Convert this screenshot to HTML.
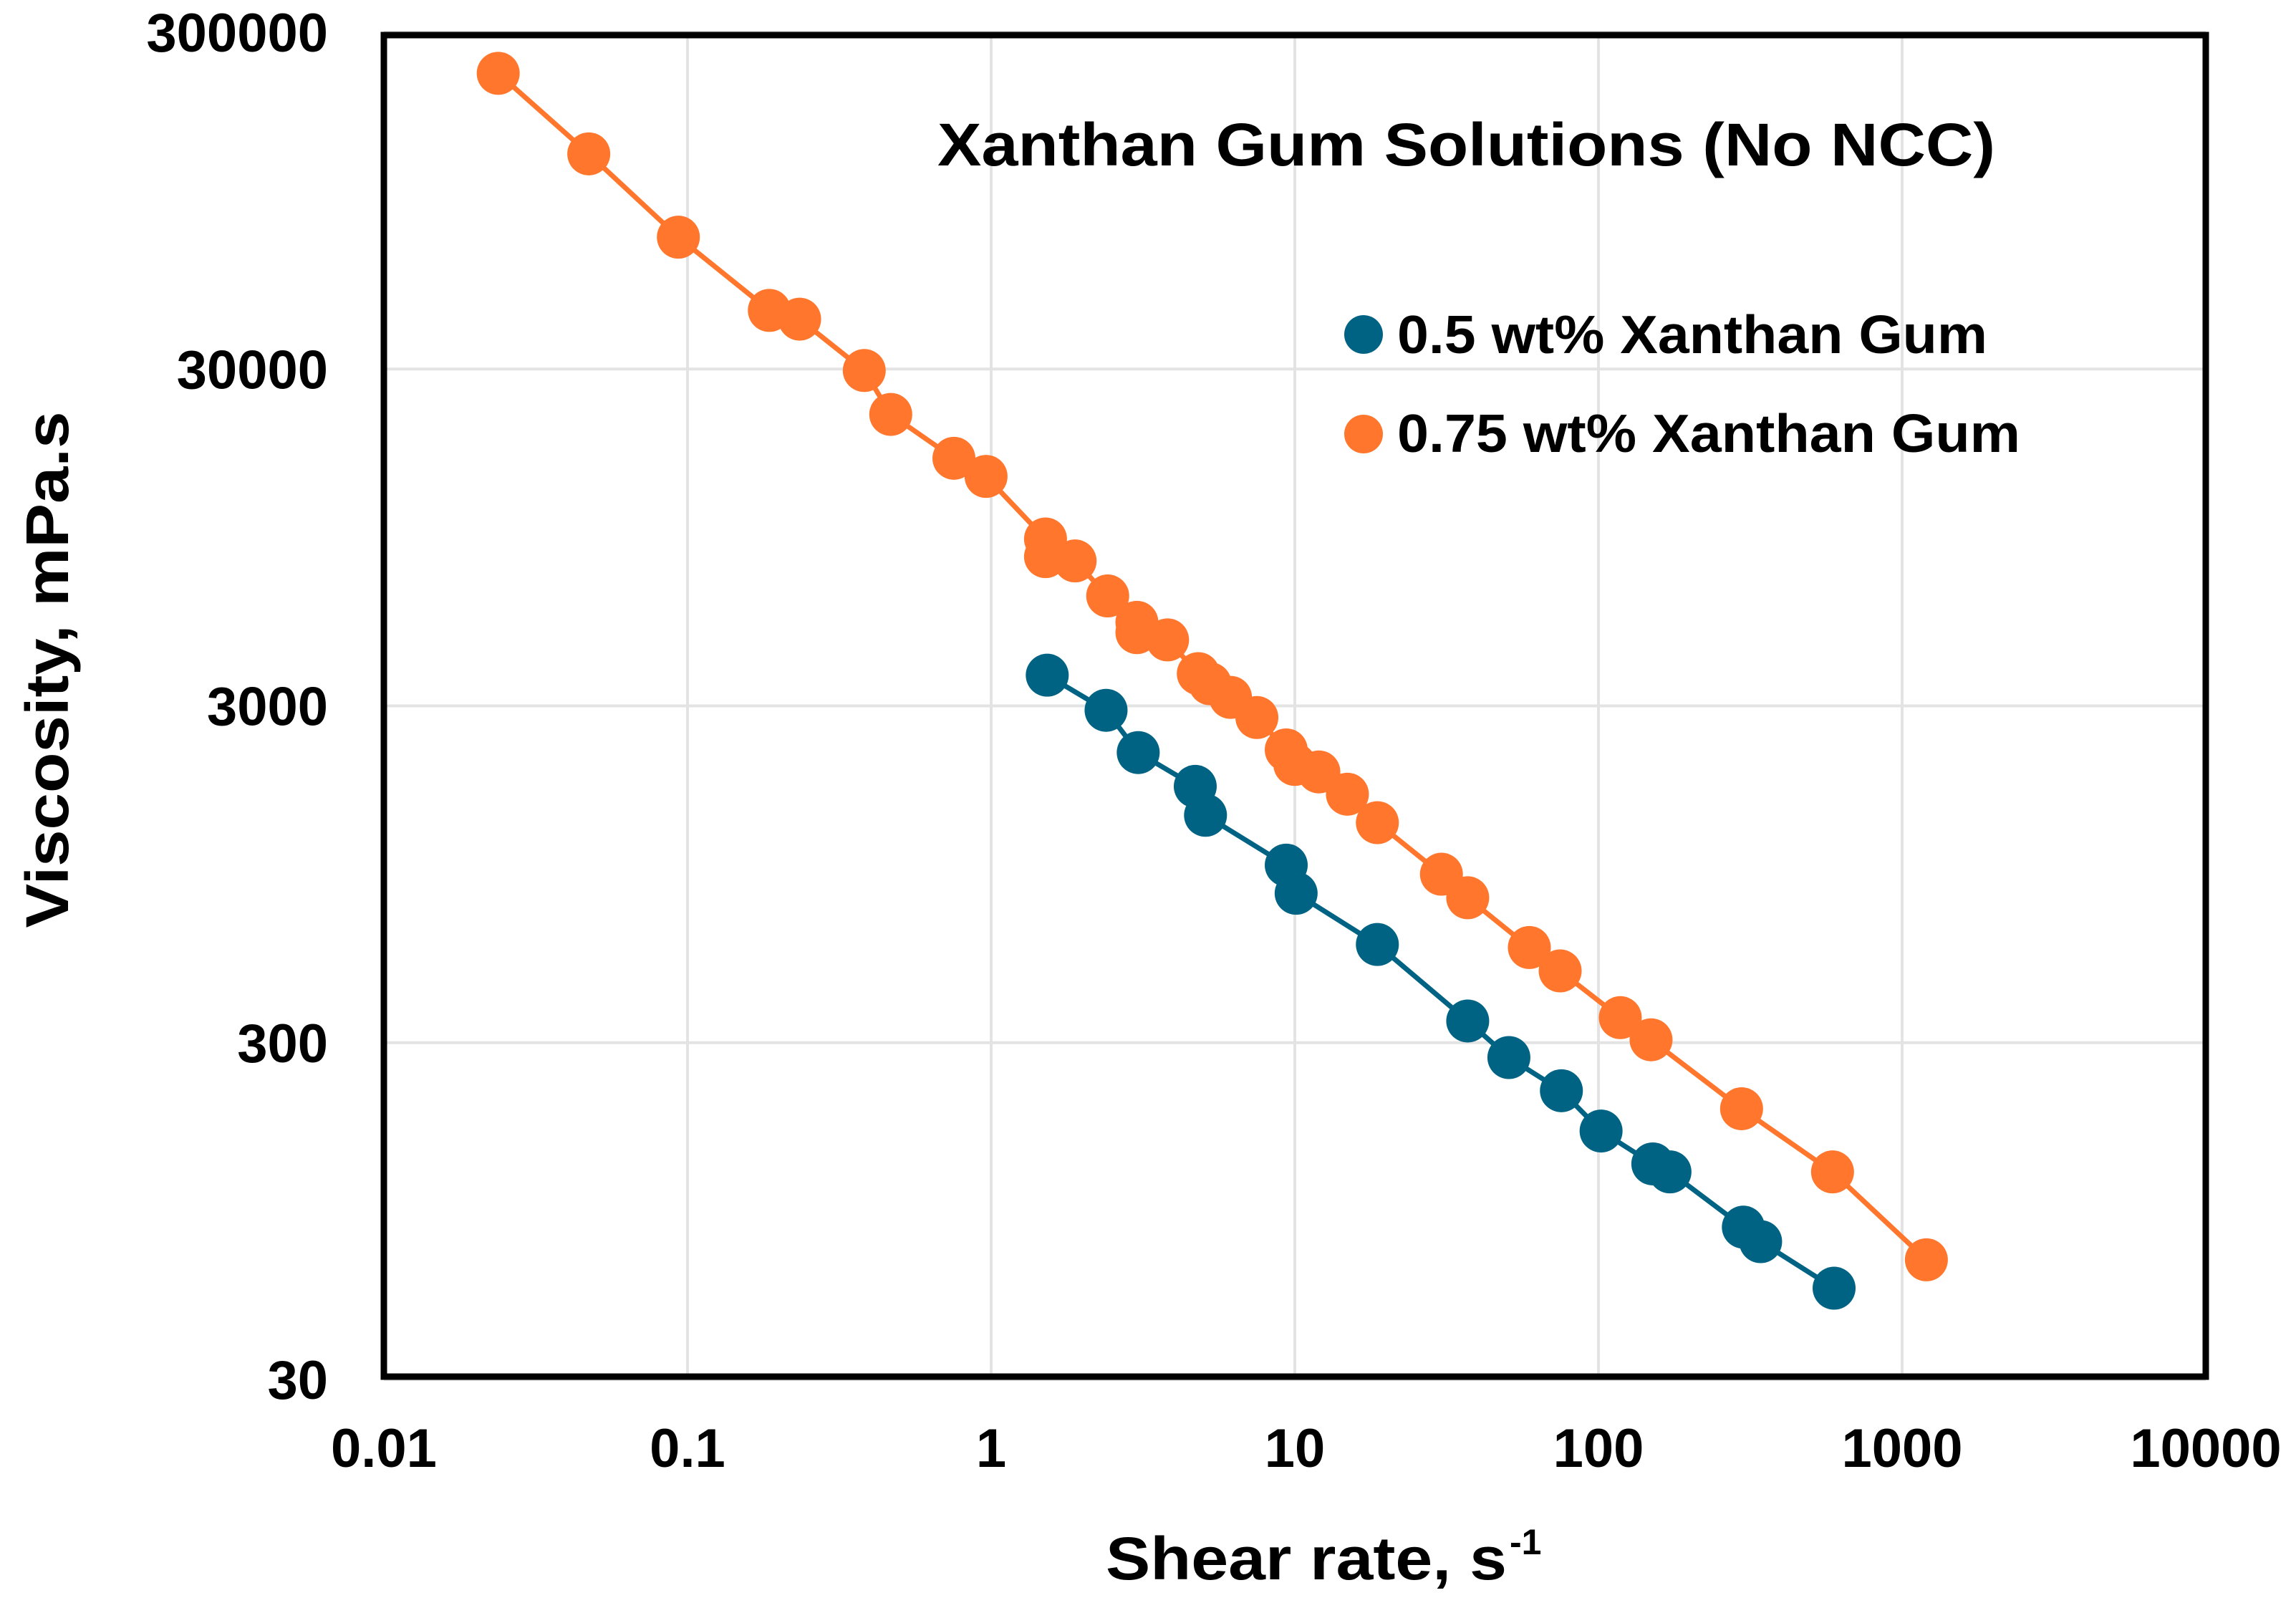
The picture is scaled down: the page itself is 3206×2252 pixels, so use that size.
<!DOCTYPE html>
<html><head><meta charset="utf-8"><style>
html,body{margin:0;padding:0;background:#fff;}
svg{display:block;font-family:"Liberation Sans",sans-serif;font-weight:bold;}
</style></head><body>
<svg id="chart" width="3206" height="2252" viewBox="0 0 3206 2252" xmlns="http://www.w3.org/2000/svg">
<rect x="0" y="0" width="3206" height="2252" fill="#fff"/>
<g id="grid"></g>
<g id="series"></g>
<rect x="536" y="49" width="2544" height="1873" fill="none" stroke="#000" stroke-width="9"/>
<g id="ticks"></g>
<text x="1309" y="231" font-size="84" textLength="1477" lengthAdjust="spacingAndGlyphs">Xanthan Gum Solutions (No NCC)</text>
<g>
<g>
<circle cx="1904" cy="467" r="27" fill="#006384"/>
<text x="1951" y="493" font-size="75" textLength="824" lengthAdjust="spacingAndGlyphs">0.5 wt% Xanthan Gum</text>
</g>
<g>
<circle cx="1904" cy="606" r="27" fill="#FF762C"/>
<text x="1951" y="631" font-size="75" textLength="870" lengthAdjust="spacingAndGlyphs">0.75 wt% Xanthan Gum</text>
</g>
</g>
<text x="1544" y="2205" font-size="84" textLength="560" lengthAdjust="spacingAndGlyphs">Shear rate, s</text>
<text x="2108" y="2170" font-size="50">-1</text>
<text transform="translate(95,935) rotate(-90)" text-anchor="middle" font-size="84" textLength="721" lengthAdjust="spacingAndGlyphs">Viscosity, mPa.s</text>
</svg>
<script>
const xTicks = [0.01, 0.1, 1, 10, 100, 1000, 10000];
const xTickLabels = ["0.01", "0.1", "1", "10", "100", "1000", "10000"];
const yTicks = [30, 300, 3000, 30000, 300000];
const yTickLabels = ["30", "300", "3000", "30000", "300000"];
const rateLow = [1.53, 2.39, 3.05, 4.70, 5.08, 9.37, 10.1, 18.7, 37.1, 50.7, 75.5, 102, 151, 172, 300, 342, 597];
const viscLow = [3700, 2910, 2180, 1730, 1420, 1010, 833, 587, 348, 271, 216, 164, 131, 124, 85, 77, 56];
const rateHigh = [0.0238, 0.0473, 0.0933, 0.186, 0.234, 0.382, 0.467, 0.754, 0.962, 1.51, 1.51, 1.89, 2.42, 3.02, 3.02, 3.81, 4.81, 5.26, 6.14, 7.50, 9.37, 10.0, 12.0, 14.9, 18.7, 30.4, 37.1, 59.2, 74.8, 118, 149, 296, 590, 1202];
const viscHigh = [226500, 130600, 73900, 44800, 42200, 29700, 22000, 16300, 14400, 9390, 8320, 8080, 6360, 5310, 4950, 4710, 3740, 3490, 3180, 2770, 2220, 2010, 1910, 1640, 1350, 949, 808, 575, 490, 356, 306, 191, 124, 68];

const NS = "http://www.w3.org/2000/svg";
const X0 = 536, X1 = 3080, Y0 = 1926, Y1 = 45;
function xs(v){ return X0 + (Math.log10(v) - Math.log10(0.01)) / 6 * (X1 - X0); }
function ys(v){ return Y0 - (Math.log10(v) - Math.log10(30)) / 4 * (Y0 - Y1); }
function mk(tag, attrs, parent){ const e = document.createElementNS(NS, tag); for (const k in attrs) e.setAttribute(k, attrs[k]); parent.appendChild(e); return e; }

const grid = document.getElementById('grid');
const ticks = document.getElementById('ticks');
xTicks.forEach((t, i) => {
  const gl = mk('line', {x1: xs(t), x2: xs(t), y1: Y1, y2: Y0, stroke: '#e3e3e3', 'stroke-width': 4}, grid);
  
  
  const tx = mk('text', {x: xs(t), y: 2048, 'text-anchor': 'middle', 'font-size': 76}, ticks);
  tx.textContent = xTickLabels[i];
  
  
});
yTicks.forEach((t, i) => {
  const gl = mk('line', {x1: X0, x2: X1, y1: ys(t), y2: ys(t), stroke: '#e3e3e3', 'stroke-width': 4}, grid);
  
  
  const tx = mk('text', {x: 458, y: ys(t) + 27, 'text-anchor': 'end', 'font-size': 76}, ticks);
  tx.textContent = yTickLabels[i];
  
  
});

const series = document.getElementById('series');
function drawSeries(rates, viscs, color, name){
  const g = mk('g', {}, series);
  
  
  const pts = rates.map((r, i) => xs(r).toFixed(1) + ',' + ys(viscs[i]).toFixed(1)).join(' ');
  const pl = mk('polyline', {points: pts, fill: 'none', stroke: color, 'stroke-width': 7, 'stroke-linejoin': 'round'}, g);
  
  
  rates.forEach((r, i) => {
    const c = mk('circle', {cx: xs(r), cy: ys(viscs[i]), r: 30, fill: color}, g);
    
    
  });
}
drawSeries(rateHigh, viscHigh, '#FF762C', 'series-0.75wt');
drawSeries(rateLow, viscLow, '#006384', 'series-0.5wt');
</script>
</body></html>
